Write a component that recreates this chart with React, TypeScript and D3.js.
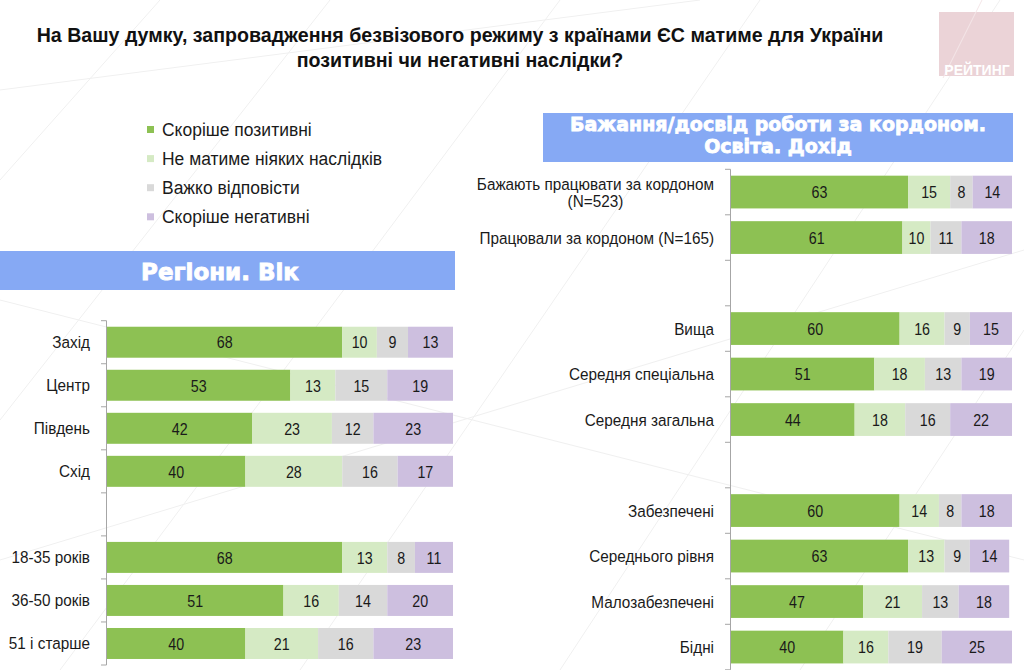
import React, { useEffect, useRef } from "react";
import * as d3 from "d3";

const seriesNames = ["Скоріше позитивні", "Не матиме ніяких наслідків", "Важко відповісти", "Скоріше негативні"];
const seriesColors = ["#8dc153", "#d5eac4", "#d9d9d9", "#cdbfdf"];

const leftCategories = ["Захід", "Центр", "Південь", "Схід", "", "18-35 років", "36-50 років", "51 і старше"];
const leftPositive = [68, 53, 42, 40, null, 68, 51, 40];
const leftNone = [10, 13, 23, 28, null, 13, 16, 21];
const leftHard = [9, 15, 12, 16, null, 8, 14, 16];
const leftNegative = [13, 19, 23, 17, null, 11, 20, 23];

const rightCategories = [
  "Бажають працювати за кордоном\n(N=523)",
  "Працювали за кордоном (N=165)",
  "",
  "Вища",
  "Середня спеціальна",
  "Середня загальна",
  "",
  "Забезпечені",
  "Середнього рівня",
  "Малозабезпечені",
  "Бідні",
];
const rightPositive = [63, 61, null, 60, 51, 44, null, 60, 63, 47, 40];
const rightNone = [15, 10, null, 16, 18, 18, null, 14, 13, 21, 16];
const rightHard = [8, 11, null, 9, 13, 16, null, 8, 9, 13, 19];
const rightNegative = [14, 18, null, 15, 19, 22, null, 18, 14, 18, 25];

const titleLines = [
  "На Вашу думку, запровадження безвізового режиму з країнами ЄС матиме для України",
  "позитивні чи негативні наслідки?",
];
const leftHeader = ["Регіони. Вік"];
const rightHeader = ["Бажання/досвід роботи за кордоном.", "Освіта. Дохід"];

const SANS = "'Liberation Sans', Arial, sans-serif";
const HEAVY = "'DejaVu Sans', sans-serif";

type Panel = {
  cats: string[];
  series: (number | null)[][];
  x0: number;
  x1: number;
  y0: number;
  y1: number;
  labelRight: number;
};

type Sel = d3.Selection<any, unknown, null, undefined>;

function narrowText(
  parent: Sel,
  x: number,
  y: number,
  txt: string,
  size: number,
  sx: number,
  anchor: string
) {
  return parent
    .append("text")
    .attr("transform", `translate(${x},${y}) scale(${sx},1)`)
    .attr("dy", "0.35em")
    .attr("text-anchor", anchor)
    .attr("font-family", SANS)
    .attr("font-size", size)
    .attr("fill", "#1a1a1a")
    .text(txt);
}

export default function App() {
  const ref = useRef<SVGSVGElement | null>(null);

  useEffect(() => {
    const svg = d3.select(ref.current) as unknown as Sel;
    svg.selectAll("*").remove();

    // background faint diagonal lines
    const bg = svg.append("g").attr("stroke", "#f0f0f0").attr("stroke-width", 1);
    const bgLines = [
      [0, 180, 160, 0], [0, 420, 330, 0], [60, 670, 560, 0], [300, 670, 760, 0],
      [560, 670, 1000, 0], [800, 670, 1024, 330], [0, 300, 1024, 560], [0, 560, 1024, 250],
      [0, 90, 700, 0],
    ];
    bgLines.forEach(([a, b, c, d]) => bg.append("line").attr("x1", a).attr("y1", b).attr("x2", c).attr("y2", d));

    // title
    svg
      .append("g")
      .selectAll("text")
      .data(titleLines)
      .join("text")
      .attr("x", 460)
      .attr("y", (_d, i) => 42 + i * 25)
      .attr("text-anchor", "middle")
      .attr("font-family", SANS)
      .attr("font-weight", "bold")
      .attr("font-size", 19.6)
      .attr("fill", "#111")
      .text((d) => d);

    // logo
    const logo = svg.append("g");
    logo.append("rect").attr("x", 939).attr("y", 12).attr("width", 75).attr("height", 64).attr("fill", "#ebd3d7");
    logo.append("line").attr("x1", 982).attr("y1", 0).attr("x2", 943).attr("y2", 78).attr("stroke", "#f4e6e8").attr("stroke-width", 1);
    logo
      .append("text")
      .attr("x", 977)
      .attr("y", 75)
      .attr("text-anchor", "middle")
      .attr("font-family", SANS)
      .attr("font-weight", "bold")
      .attr("font-size", 14)
      .attr("fill", "#ffffff")
      .text("РЕЙТИНГ");

    // legend
    const leg = svg.append("g");
    seriesNames.forEach((name, i) => {
      const cy = 129.5 + i * 29.1;
      leg.append("rect").attr("x", 147).attr("y", cy - 3.5).attr("width", 7).attr("height", 7).attr("fill", seriesColors[i]);
      narrowText(leg, 162, cy, name, 19, 0.92, "start");
    });

    // headers
    svg.append("rect").attr("x", 0).attr("y", 251).attr("width", 455).attr("height", 39).attr("fill", "#86a9f4");
    svg
      .append("text")
      .attr("x", 220)
      .attr("y", 280)
      .attr("text-anchor", "middle")
      .attr("font-family", HEAVY)
      .attr("font-weight", "bold")
      .attr("font-size", 23)
      .attr("fill", "#ffffff")
      .attr("stroke", "#ffffff")
      .attr("stroke-width", 0.9)
      .text(leftHeader[0]);

    svg.append("rect").attr("x", 543).attr("y", 113).attr("width", 470).attr("height", 49).attr("fill", "#86a9f4");
    svg
      .append("g")
      .selectAll("text")
      .data(rightHeader)
      .join("text")
      .attr("x", 778)
      .attr("y", (_d, i) => 131 + i * 21.5)
      .attr("text-anchor", "middle")
      .attr("font-family", HEAVY)
      .attr("font-weight", "bold")
      .attr("font-size", 19)
      .attr("fill", "#ffffff")
      .attr("stroke", "#ffffff")
      .attr("stroke-width", 0.8)
      .text((d) => d);

    const panels: Panel[] = [
      {
        cats: leftCategories,
        series: [leftPositive, leftNone, leftHard, leftNegative],
        x0: 107,
        x1: 453,
        y0: 320.7,
        y1: 665,
        labelRight: 90,
      },
      {
        cats: rightCategories,
        series: [rightPositive, rightNone, rightHard, rightNegative],
        x0: 731,
        x1: 1012,
        y0: 169.3,
        y1: 669.8,
        labelRight: 714,
      },
    ];

    panels.forEach((p) => {
      const idx = p.cats.map((_c, i) => String(i));
      const x = d3.scaleLinear().domain([0, 100]).range([p.x0, p.x1]).clamp(true);
      const y = d3.scaleBand<string>().domain(idx).range([p.y0, p.y1]).paddingInner(0.28).paddingOuter(0.14);
      const g = svg.append("g");

      const rows = p.cats.map((c, i) => {
        let acc = 0;
        const segs = p.series.map((s, k) => {
          const v = s[i];
          const start = acc;
          acc += v ?? 0;
          return { k, v, start, end: acc };
        });
        return { c, i, segs };
      });

      rows.forEach((r) => {
        r.segs.forEach((s) => {
          if (s.v == null) return;
          const xa = x(s.start);
          const xb = x(s.end);
          g.append("rect")
            .attr("x", xa)
            .attr("y", y(String(r.i))!)
            .attr("width", Math.max(0, xb - xa))
            .attr("height", y.bandwidth())
            .attr("fill", seriesColors[s.k]);
          narrowText(g, (xa + xb) / 2, y(String(r.i))! + y.bandwidth() / 2 + 0.3, String(s.v), 17, 0.84, "middle");
        });
      });

      // axis
      const ax = g.append("g").attr("stroke", "#a6a6a6").attr("stroke-width", 1);
      ax.append("line").attr("x1", p.x0 - 0.5).attr("x2", p.x0 - 0.5).attr("y1", p.y0).attr("y2", p.y1);
      const step = y.step();
      d3.range(p.cats.length + 1).forEach((j) => {
        const yy = p.y0 + j * step;
        ax.append("line").attr("x1", p.x0 - 6).attr("x2", p.x0 - 0.5).attr("y1", yy).attr("y2", yy);
      });

      // labels
      const sx = 0.9;
      rows.forEach((r) => {
        if (!r.c) return;
        const cy = y(String(r.i))! + y.bandwidth() / 2;
        const lines = r.c.split("\n");
        if (lines.length === 1) {
          narrowText(g, p.labelRight, cy, lines[0], 17, sx, "end");
        } else {
          const probe = narrowText(g, 0, 0, lines[0], 17, sx, "start");
          const w = (probe.node() as SVGTextElement).getComputedTextLength() * sx;
          probe.remove();
          const cx = p.labelRight - w / 2;
          const lh = 17;
          lines.forEach((ln, li) => {
            narrowText(g, cx, cy + (li - (lines.length - 1) / 2) * lh, ln, 17, sx, "middle");
          });
        }
      });
    });
  }, []);

  return (
    <svg
      ref={ref}
      width={1024}
      height={670}
      style={{ position: "absolute", left: 0, top: 0, background: "#ffffff", display: "block" }}
    />
  );
}
